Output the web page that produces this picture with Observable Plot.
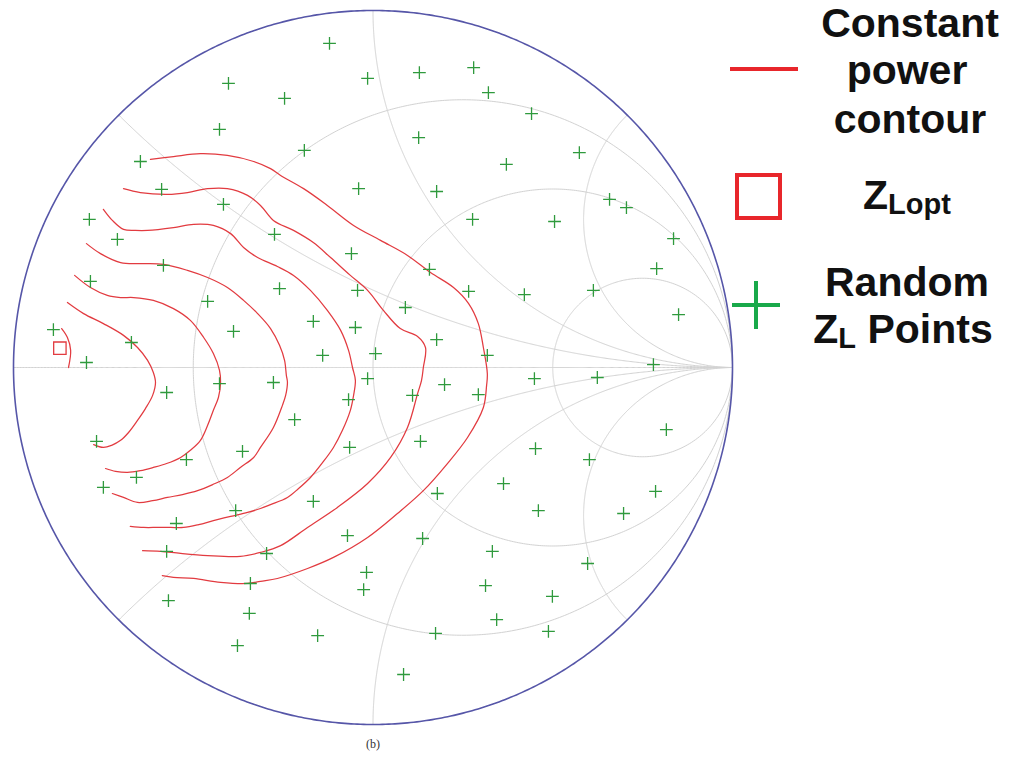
<!DOCTYPE html>
<html>
<head>
<meta charset="utf-8">
<script src="https://cdn.jsdelivr.net/npm/d3@7"></script>
<script src="https://cdn.jsdelivr.net/npm/@observablehq/plot@0.6"></script>
<style>
  html, body { margin: 0; padding: 0; background: #ffffff; }
  #wrap { position: relative; width: 1014px; height: 767px; overflow: hidden; }
  #chart { position: absolute; left: 0; top: 0; }
  #legend { position: absolute; left: 725px; top: 0; }
  #caption { position: absolute; left: 0; top: 737px; width: 746px; text-align: center;
             font-family: "Liberation Serif", "DejaVu Serif", serif; font-size: 12px; color: #333; }
</style>
</head>
<body>
<div id="wrap">
  <div id="chart"></div>
  <svg id="legend" width="289" height="360" xmlns="http://www.w3.org/2000/svg"
       font-family="'Liberation Sans', Arial, sans-serif" font-weight="bold" font-size="41" fill="#111">
    <line x1="5" y1="69" x2="73" y2="69" stroke="#e8262b" stroke-width="4"/>
    <text x="185" y="37" text-anchor="middle">Constant</text>
    <text x="182" y="84" text-anchor="middle">power</text>
    <text x="185" y="133" text-anchor="middle">contour</text>
    <rect x="12" y="175" width="43" height="43" fill="none" stroke="#e8262b" stroke-width="4"/>
    <text x="182" y="209" text-anchor="middle">Z<tspan font-size="29" dy="5">Lopt</tspan></text>
    <line x1="7" y1="305" x2="55" y2="305" stroke="#19a94a" stroke-width="4"/>
    <line x1="31" y1="281" x2="31" y2="329" stroke="#19a94a" stroke-width="4"/>
    <text x="182" y="296" text-anchor="middle">Random</text>
    <text x="178" y="343" text-anchor="middle">Z<tspan font-size="29" dy="5">L</tspan><tspan dy="-5"> Points</tspan></text>
  </svg>
  <div id="caption">(b)</div>
</div>
<script>
// ---- Smith chart grid values ----
const resistances = [1 / 3, 1, 3];
const reactances = [0, 0.4142, 1, 2.4142];

// ---- Optimum load (reflection coefficient: [Re, Im]) ----
const zLopt = [[-0.871, 0.054]];

// ---- Random Z_L points (reflection coefficient: [Re, Im]) ----
const randomZL = [
  [-0.121, 0.908], [-0.015, 0.810], [-0.402, 0.796], [-0.246, 0.754], [-0.427, 0.667],
  [-0.191, 0.608], [-0.647, 0.577], [-0.040, 0.501], [-0.588, 0.499], [-0.416, 0.457],
  [-0.789, 0.415], [-0.711, 0.359], [-0.274, 0.373], [-0.060, 0.319], [-0.583, 0.286],
  [-0.786, 0.241], [-0.260, 0.221], [-0.043, 0.216], [-0.460, 0.185], [-0.166, 0.129],
  [-0.049, 0.112], [-0.388, 0.101], [-0.889, 0.106], [-0.672, 0.070], [-0.140, 0.034],
  [0.007, 0.039], [-0.797, 0.014], [-0.015, -0.031], [-0.277, -0.042], [0.129, 0.826],
  [0.280, 0.840], [0.321, 0.770], [0.441, 0.711], [0.127, 0.644], [0.574, 0.602],
  [0.371, 0.569], [0.177, 0.493], [0.658, 0.471], [0.705, 0.448], [0.277, 0.415],
  [0.505, 0.409], [0.836, 0.361], [0.789, 0.277], [0.157, 0.275], [0.266, 0.213],
  [0.421, 0.204], [0.613, 0.216], [0.090, 0.168], [0.850, 0.148], [0.177, 0.078],
  [0.318, 0.034], [0.780, 0.008], [0.449, -0.031], [0.624, -0.028], [-0.574, -0.070],
  [-0.427, -0.045], [-0.068, -0.090], [-0.218, -0.146], [-0.769, -0.207], [-0.519, -0.258],
  [-0.363, -0.235], [-0.065, -0.224], [-0.658, -0.308], [-0.750, -0.336], [-0.382, -0.401],
  [-0.166, -0.375], [-0.547, -0.437], [-0.071, -0.471], [-0.574, -0.515], [-0.296, -0.521],
  [-0.018, -0.574], [-0.026, -0.622], [-0.341, -0.605], [-0.569, -0.653], [-0.344, -0.689],
  [-0.154, -0.751], [-0.377, -0.779], [0.085, -0.860], [0.199, -0.048], [0.110, -0.078],
  [0.293, -0.076], [0.816, -0.174], [0.132, -0.207], [0.452, -0.227], [0.602, -0.258],
  [0.363, -0.325], [0.786, -0.347], [0.179, -0.353], [0.460, -0.401], [0.697, -0.409],
  [0.138, -0.479], [0.332, -0.515], [0.597, -0.549], [0.313, -0.611], [0.499, -0.641],
  [0.344, -0.706], [0.174, -0.745], [0.488, -0.739]
];

// ---- Constant power contours (reflection coefficient: [Re, Im]) ----
const contour1 = [[-0.866, 0.109], [-0.850, 0.084], [-0.841, 0.048], [-0.847, 0.000]];
const contour2 = [
  [-0.850, 0.182], [-0.805, 0.151], [-0.750, 0.123], [-0.694, 0.090], [-0.655, 0.056],
  [-0.627, 0.020], [-0.611, -0.014], [-0.605, -0.042], [-0.613, -0.078], [-0.633, -0.115],
  [-0.655, -0.148], [-0.680, -0.182], [-0.702, -0.204], [-0.727, -0.218], [-0.750, -0.224],
  [-0.777, -0.216]
];
const contour3 = [
  [-0.830, 0.258], [-0.786, 0.224], [-0.739, 0.202], [-0.702, 0.196], [-0.666, 0.196],
  [-0.611, 0.188], [-0.555, 0.165], [-0.508, 0.132], [-0.471, 0.084], [-0.444, 0.039],
  [-0.427, -0.008], [-0.424, -0.042], [-0.430, -0.084], [-0.444, -0.120], [-0.460, -0.162],
  [-0.480, -0.204], [-0.508, -0.232], [-0.535, -0.252], [-0.574, -0.269], [-0.611, -0.280],
  [-0.647, -0.289], [-0.683, -0.294], [-0.716, -0.291], [-0.744, -0.283]
];
const contour4 = [
  [-0.797, 0.347], [-0.758, 0.319], [-0.702, 0.294], [-0.647, 0.291], [-0.583, 0.289],
  [-0.516, 0.272], [-0.460, 0.252], [-0.405, 0.224], [-0.360, 0.188], [-0.321, 0.151],
  [-0.285, 0.109], [-0.260, 0.062], [-0.246, 0.020], [-0.241, -0.022], [-0.238, -0.042],
  [-0.243, -0.078], [-0.252, -0.106], [-0.277, -0.168], [-0.313, -0.224], [-0.332, -0.252],
  [-0.369, -0.280], [-0.405, -0.308], [-0.446, -0.328], [-0.488, -0.345], [-0.530, -0.356],
  [-0.572, -0.364], [-0.613, -0.373], [-0.655, -0.378], [-0.694, -0.364], [-0.725, -0.353]
];
const contour5 = [
  [-0.750, 0.443], [-0.725, 0.412], [-0.694, 0.387], [-0.661, 0.384], [-0.627, 0.384],
  [-0.555, 0.392], [-0.499, 0.401], [-0.444, 0.398], [-0.396, 0.375], [-0.360, 0.336],
  [-0.321, 0.308], [-0.266, 0.283], [-0.221, 0.258], [-0.174, 0.216], [-0.127, 0.160],
  [-0.090, 0.104], [-0.068, 0.048], [-0.057, 0.000], [-0.049, -0.036], [-0.054, -0.078],
  [-0.063, -0.120], [-0.085, -0.176], [-0.110, -0.224], [-0.140, -0.266], [-0.174, -0.308],
  [-0.207, -0.339], [-0.238, -0.364], [-0.285, -0.384], [-0.313, -0.395], [-0.349, -0.406],
  [-0.396, -0.417], [-0.444, -0.429], [-0.485, -0.440], [-0.527, -0.448], [-0.563, -0.448],
  [-0.599, -0.448], [-0.638, -0.448], [-0.675, -0.445]
];
const contour6 = [
  [-0.694, 0.501], [-0.647, 0.490], [-0.572, 0.485], [-0.516, 0.490], [-0.460, 0.501],
  [-0.405, 0.501], [-0.349, 0.482], [-0.313, 0.454], [-0.277, 0.412], [-0.221, 0.384],
  [-0.166, 0.350], [-0.118, 0.308], [-0.063, 0.258], [-0.015, 0.216], [0.029, 0.160],
  [0.076, 0.109], [0.124, 0.087], [0.146, 0.056], [0.140, 0.000], [0.135, -0.036],
  [0.124, -0.073], [0.096, -0.168], [0.049, -0.252], [-0.015, -0.325], [-0.099, -0.392],
  [-0.182, -0.448], [-0.257, -0.499], [-0.313, -0.518], [-0.369, -0.529], [-0.460, -0.527],
  [-0.535, -0.521], [-0.591, -0.515], [-0.641, -0.513]
];
const contour7 = [
  [-0.619, 0.583], [-0.555, 0.591], [-0.480, 0.599], [-0.405, 0.594], [-0.332, 0.577],
  [-0.285, 0.557], [-0.257, 0.538], [-0.193, 0.501], [-0.127, 0.454], [-0.054, 0.398],
  [0.021, 0.356], [0.096, 0.314], [0.160, 0.266], [0.224, 0.224], [0.266, 0.179],
  [0.293, 0.123], [0.307, 0.056], [0.318, -0.017], [0.316, -0.050], [0.307, -0.112],
  [0.263, -0.196], [0.207, -0.269], [0.140, -0.345], [0.068, -0.409], [-0.015, -0.476],
  [-0.110, -0.532], [-0.182, -0.563], [-0.266, -0.591], [-0.313, -0.599], [-0.349, -0.605],
  [-0.424, -0.602], [-0.499, -0.591], [-0.555, -0.588], [-0.586, -0.583]
];

// ---- build tables ----
function gamma(r, x) {
  const den = (r + 1) * (r + 1) + x * x;
  return [(r * r + x * x - 1) / den, (2 * x) / den];
}
const N = 720;
const grid = [];
for (const r of resistances) {
  for (let i = 0; i <= N; i++) {
    const t = -Math.PI / 2 + 1e-4 + (Math.PI - 2e-4) * i / N;
    const [re, im] = gamma(r, Math.tan(t));
    grid.push({id: "r" + r, re, im});
  }
}
for (const xv of reactances) {
  const signs = xv === 0 ? [1] : [1, -1];
  for (const s of signs) {
    for (let i = 0; i <= N; i++) {
      const t = (Math.PI / 2 - 1e-4) * i / N;
      const [re, im] = gamma(Math.tan(t), s * xv);
      grid.push({id: "x" + s * xv, re, im});
    }
  }
}
const outer = [];
for (let i = 0; i <= N; i++) {
  const t = -Math.PI / 2 + 1e-5 + (Math.PI - 2e-5) * i / N;
  const [re, im] = gamma(0, Math.tan(t));
  outer.push({re, im});
}
const contours = [contour1, contour2, contour3, contour4, contour5, contour6, contour7]
  .flatMap((c, k) => c.map(([re, im]) => ({id: k, re, im})));
const points = randomZL.map(([re, im]) => ({re, im}));
const opt = zLopt.map(([re, im]) => ({re, im}));

const plusSymbol = {
  draw(context, size) {
    const a = Math.sqrt(size / Math.PI);
    context.moveTo(-a, 0); context.lineTo(a, 0);
    context.moveTo(0, -a); context.lineTo(0, a);
  }
};

const chart = Plot.plot({
  width: 746,
  height: 730,
  margin: 0,
  style: {background: "transparent"},
  x: {domain: [-1, 1], range: [13, 732], axis: null},
  y: {domain: [-1, 1], range: [724, 10], axis: null},
  marks: [
    Plot.line(grid, {x: "re", y: "im", z: "id", stroke: "#d2d2d2", strokeWidth: 1}),
    Plot.line(outer, {x: "re", y: "im", stroke: "#5656a8", strokeWidth: 1.6}),
    Plot.line(contours, {x: "re", y: "im", z: "id", stroke: "#e23b40", strokeWidth: 1.25, curve: "catmull-rom"}),
    Plot.dot(opt, {x: "re", y: "im", symbol: "square", r: 7, stroke: "#e23b40", fill: "none", strokeWidth: 1.3}),
    Plot.dot(points, {x: "re", y: "im", symbol: plusSymbol, r: 6.4, stroke: "#2f9a3d", fill: "none", strokeWidth: 1.3})
  ]
});
document.getElementById("chart").appendChild(chart);
</script>
</body>
</html>
